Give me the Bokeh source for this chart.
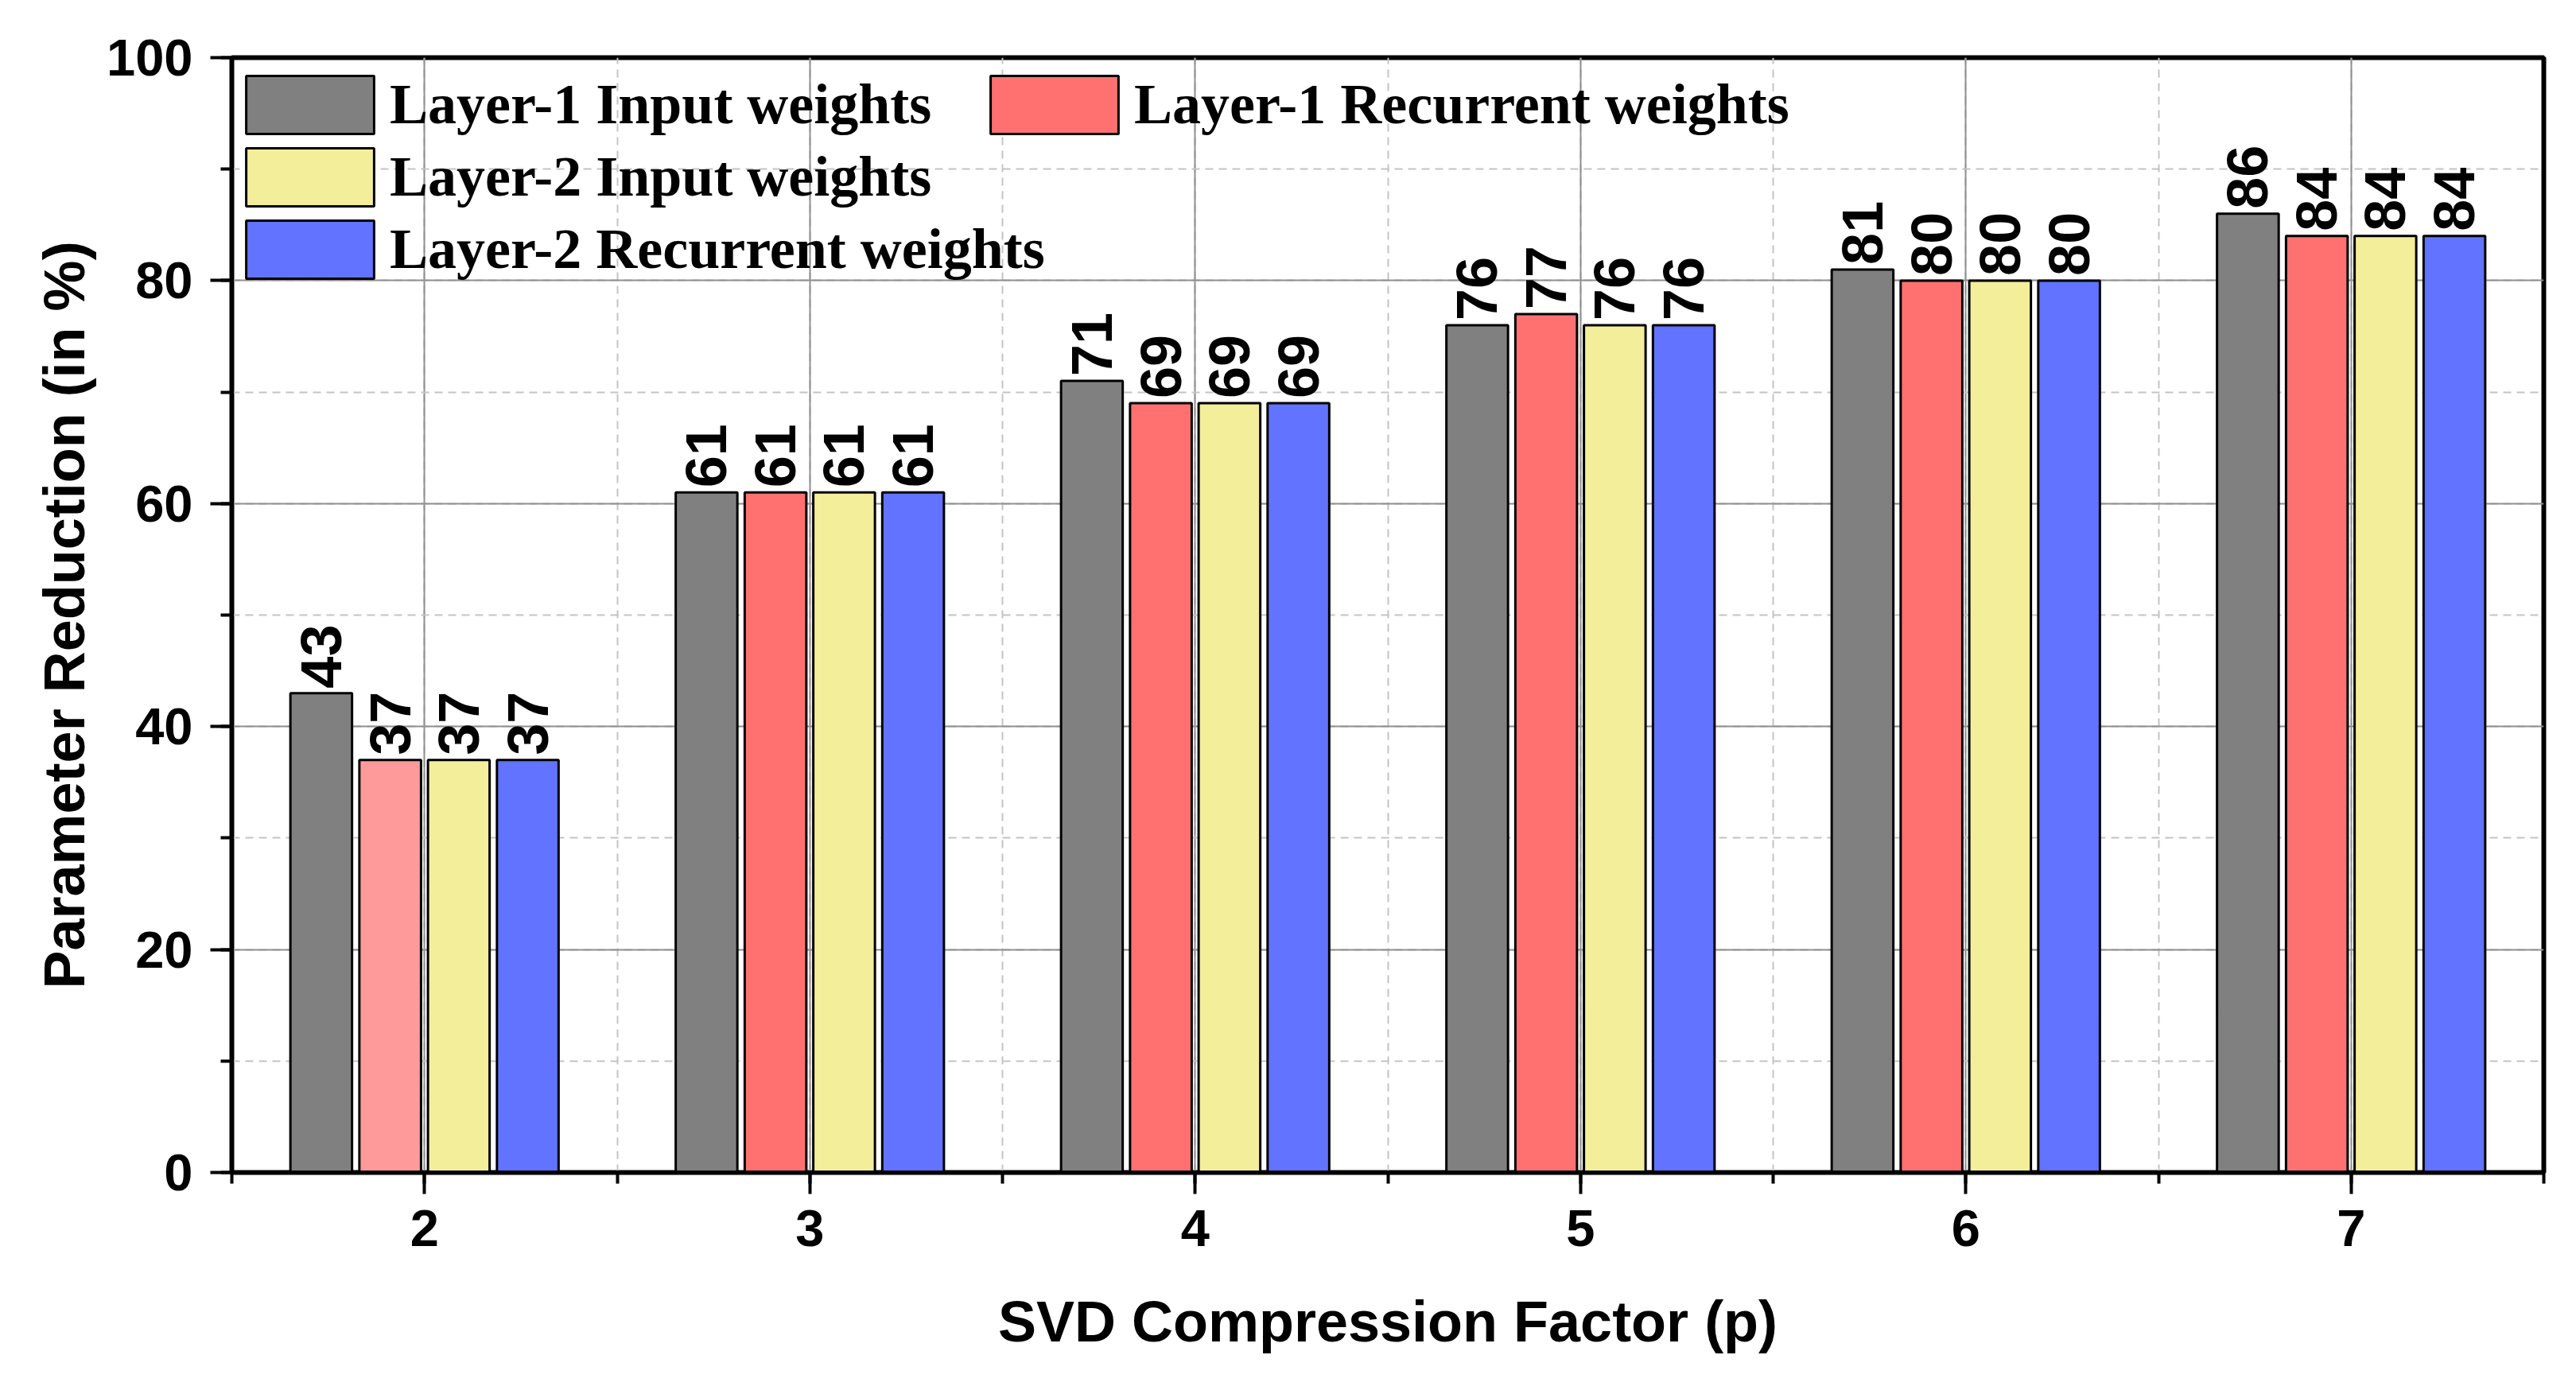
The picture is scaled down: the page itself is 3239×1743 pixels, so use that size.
import math
from bokeh.plotting import figure
from bokeh.models import (ColumnDataSource, Range1d, SingleIntervalTicker,
                          Legend, LegendItem)
from bokeh.transform import dodge
from bokeh.core.properties import value
from bokeh.embed import file_html
from bokeh.resources import INLINE

# ---------------- data ----------------
p_factors = [2, 3, 4, 5, 6, 7]
series_names = ["Layer-1 Input weights", "Layer-1 Recurrent weights",
                "Layer-2 Input weights", "Layer-2 Recurrent weights"]
l1_input = [43, 61, 71, 76, 81, 86]
l1_recurrent = [37, 61, 69, 77, 80, 84]
l2_input = [37, 61, 69, 76, 80, 84]
l2_recurrent = [37, 61, 69, 76, 80, 84]

l1_input_colors = ["#808080"] * 6
l1_recurrent_colors = ["#FF9A9A"] + ["#FF7171"] * 5
l2_input_colors = ["#F3EE9A"] * 6
l2_recurrent_colors = ["#6173FF"] * 6

y_ticks_interval = 20
x_title = "SVD Compression Factor (p)"
y_title = "Parameter Reduction (in %)"

series_values = [l1_input, l1_recurrent, l2_input, l2_recurrent]
series_colors = [l1_input_colors, l1_recurrent_colors, l2_input_colors, l2_recurrent_colors]
offsets = [-0.268, -0.089, 0.089, 0.268]

# ---------------- figure ----------------
p = figure(width=3223, height=1727,
           x_range=Range1d(1.5, 7.5), y_range=Range1d(0, 100),
           output_backend="svg", toolbar_location=None,
           min_border_left=291, min_border_right=25,
           min_border_top=72, min_border_bottom=253)

p.outline_line_color = "black"
p.outline_line_width = 6
p.background_fill_color = "white"
p.border_fill_color = "white"

p.xaxis.ticker = SingleIntervalTicker(interval=1, num_minor_ticks=2)
p.yaxis.ticker = SingleIntervalTicker(interval=y_ticks_interval, num_minor_ticks=2)

for ax in (p.xaxis[0], p.yaxis[0]):
    ax.axis_line_width = 5
    ax.axis_line_color = "black"
    ax.major_tick_line_width = 4
    ax.minor_tick_line_width = 4
    ax.major_tick_line_color = "black"
    ax.minor_tick_line_color = "black"
    ax.major_tick_out = 27
    ax.major_tick_in = 0
    ax.minor_tick_out = 14
    ax.minor_tick_in = 0
    ax.major_label_text_font = "Liberation Sans"
    ax.major_label_text_font_style = "bold"
    ax.major_label_text_font_size = "65px"
    ax.major_label_text_color = "black"
    ax.axis_label_text_font = "Liberation Sans"
    ax.axis_label_text_font_style = "bold"
    ax.axis_label_text_font_size = "72px"
    ax.axis_label_text_color = "black"

p.xaxis.axis_label = x_title
p.yaxis.axis_label = y_title
p.yaxis.major_label_standoff = 22
p.xaxis.major_label_standoff = 20
p.yaxis.axis_label_standoff = 10
p.xaxis.axis_label_standoff = 52

for g in (p.xgrid[0], p.ygrid[0]):
    g.grid_line_color = "#8f8f8f"
    g.grid_line_width = 2
    g.minor_grid_line_color = "#c4c4c4"
    g.minor_grid_line_width = 2
    g.minor_grid_line_dash = "10 7"

# ---------------- bars and labels ----------------
renderers = []
for vals, cols, off in zip(series_values, series_colors, offsets):
    src = ColumnDataSource(dict(p=p_factors, v=vals, c=cols,
                                t=[str(v) for v in vals]))
    r = p.vbar(x=dodge("p", off), top="v", bottom=0, width=0.16, source=src,
               fill_color="c", line_color="black", line_width=3)
    renderers.append(r)
    p.text(x=dodge("p", off), y="v", text="t", source=src,
           angle=math.pi / 2, text_align="left", text_baseline="middle",
           y_offset=-6, text_font=value("Liberation Sans"),
           text_font_style="bold", text_font_size="72px", text_color="black")

# ---------------- legends ----------------
def make_legend(items, loc):
    return Legend(items=items, location=loc, orientation="vertical",
                  glyph_width=201, glyph_height=91, label_height=91,
                  label_standoff=0, padding=0, margin=0, spacing=0,
                  border_line_alpha=0, background_fill_alpha=0,
                  label_text_font="Liberation Serif",
                  label_text_font_style="bold",
                  label_text_font_size="72px", label_text_color="black")

leg1 = make_legend([LegendItem(label=series_names[0], renderers=[renderers[0]]),
                    LegendItem(label=series_names[2], renderers=[renderers[2]]),
                    LegendItem(label=series_names[3], renderers=[renderers[3]])],
                   (-2, 1115))
leg2 = make_legend([LegendItem(label=series_names[1], renderers=[renderers[1]], index=1)],
                   (934, 1297))
p.add_layout(leg1)
p.add_layout(leg2)

open("out.html", "w").write(file_html(p, INLINE))
